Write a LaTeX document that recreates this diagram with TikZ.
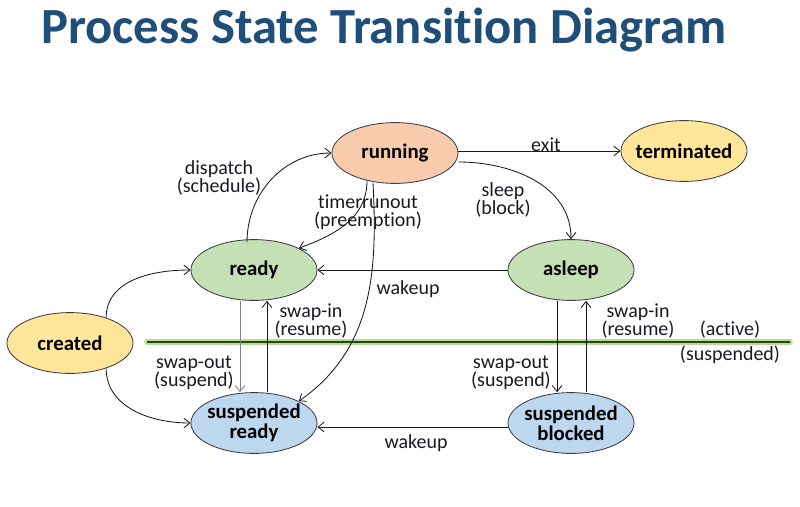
\documentclass[tikz,border=0pt]{standalone}
\usepackage{fontspec}
\setmainfont[Ligatures=NoCommon]{Carlito}
\usetikzlibrary{arrows.meta,shapes.geometric,positioning,calc}
\definecolor{titleblue}{RGB}{31,78,121}
\definecolor{peach}{RGB}{248,203,173}
\definecolor{butter}{RGB}{255,230,153}
\definecolor{sage}{RGB}{197,224,180}
\definecolor{sky}{RGB}{189,215,238}
\definecolor{moss}{RGB}{40,70,25}
\definecolor{glow}{RGB}{180,220,150}
\definecolor{ink}{RGB}{25,25,35}
\tikzset{
  >={Straight Barb[length=1.5mm,width=2.4mm]},
  proc/.style={ellipse,draw=ink!85,fill=#1,line width=0.6pt,minimum width=3.15cm,
    minimum height=1.52cm,inner xsep=-6mm,inner ysep=-3mm,align=center,
    font=\fontsize{14.8}{14}\selectfont\bfseries},
  proc/.default=sage,
  flow/.style={->,line width=0.6pt,draw=#1},
  flow/.default=ink,
  tag/.style={font=\fontsize{14.2}{12.8}\selectfont,text=ink,align=center,inner sep=1pt},
}
\begin{document}
\begin{tikzpicture}[x=0.025cm,y=-0.025cm]
    \useasboundingbox (0,0) rectangle (800,506);
    \node[anchor=base,font=\fontsize{36}{40}\selectfont\bfseries,text=titleblue] (title) at (384,43) {Process State Transition Diagram};
    % active / suspended divider
    \draw[glow,line width=4pt,line cap=round] (147,342) -- (790,342);
    \draw[moss,line width=1.6pt] (147,342) -- (790,342);
    % states
    \foreach \x/\y/\n/\t/\c in {395/153/run/running/peach,684/151/term/terminated/butter,
      254/270/rdy/ready/sage,571/270/slp/asleep/sage,70/343/new/created/butter,
      254/423/srdy/suspended\\ready/sky,571/423/sblk/suspended\\blocked/sky}{
      \node[proc=\c] (\n) at (\x,\y) {\t};
    }
    % transitions
    \draw[flow] (new.35) to[out=90,in=180] (rdy.west);
    \draw[flow] (new.-35) to[out=-90,in=180] (srdy.west);
    \draw[flow] ($(rdy.north)+(-7,3)$) to[out=90,in=180] (run.west);
    \draw[flow] ($(run.south)+(-28,-3)$) to[out=-90,in=20] (rdy.north east);
    \draw[flow] ($(run.south)+(-22,-1)$) to[out=-87,in=35] (srdy.north east);
    \draw[flow] (run.east |- term.west) -- (term.west);
    \draw[flow] ($(run.east)+(0,9)$) to[out=0,in=90] (slp.north);
    \draw[flow] (slp.west) -- (rdy.east);
    \draw[flow] ($(sblk.west)+(0,4)$) -- ($(srdy.east)+(0,4)$);
    \draw[flow=ink!55] ($(rdy.south)+(-14,0)$) -- ($(srdy.north)+(-14,0)$);
    \draw[flow] ($(srdy.north)+(13,0)$) -- ($(rdy.south)+(13,0)$);
    \draw[flow] ($(slp.south)+(-14,0)$) -- ($(sblk.north)+(-14,0)$);
    \draw[flow] ($(sblk.north)+(15,0)$) -- ($(slp.south)+(15,0)$);
    % labels
    \node[tag] (lexit) at (546,145) {exit};
    \node[tag] (ldisp) at (219,178) {dispatch\\(schedule)};
    \node[tag] (ltime) at (368,212) {timerrunout\\(preemption)};
    \node[tag] (lslp) at (503,200) {sleep\\(block)};
    \node[tag] (lwk1) at (408,289) {wakeup};
    \node[tag] (lwk2) at (416,443) {wakeup};
    \node[tag] (lin1) at (311,321) {swap-in\\(resume)};
    \node[tag] (lout1) at (194,373) {swap-out\\(suspend)};
    \node[tag] (lin2) at (638,321) {swap-in\\(resume)};
    \node[tag] (lout2) at (511,373) {swap-out\\(suspend)};
    \node[tag] (lact) at (730,330) {(active)};
    \node[tag] (lsus) at (730,355) {(suspended)};
\end{tikzpicture}
\end{document}
